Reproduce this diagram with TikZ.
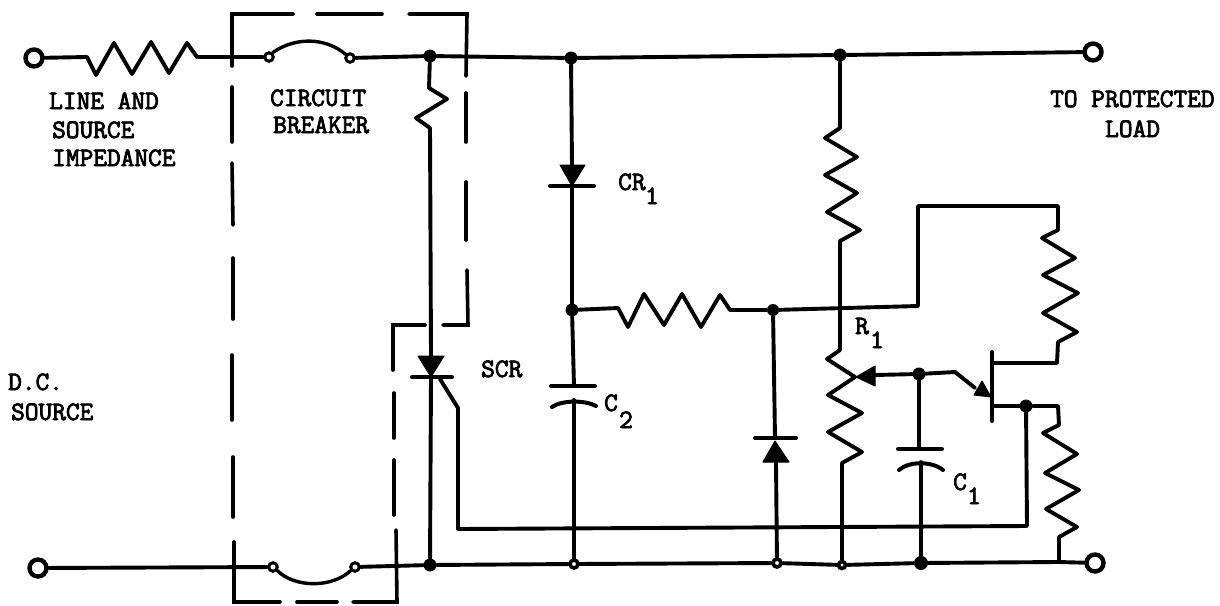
\documentclass[tikz,border=0pt]{standalone}
\usepackage{fontspec}
\newfontfamily\typewr[FakeBold=3]{Latin Modern Mono}
\begin{document}
\begin{tikzpicture}[x=1pt,y=-1pt,
  wire/.style={line width=3.9pt,line join=round,line cap=round},
  dashseg/.style={line width=3.6pt,line join=miter,line cap=round},
  solid fillshape/.style={fill=black,line join=round,draw=black,line width=1pt},
  plate/.style={line width=4pt,line cap=round},
  terminal/.style={circle,draw,line width=4.4pt,fill=white,minimum size=17pt,inner sep=0pt},
  contact/.style={circle,draw,line width=3pt,fill=white,minimum size=8.5pt,inner sep=0pt},
  junction/.style={circle,fill=black,minimum size=13pt,inner sep=0pt},
  openjunction/.style={circle,draw,line width=3.6pt,fill=white,minimum size=8pt,inner sep=0pt},
  lbl/.style={inner sep=0pt,anchor=base west,font=\fontsize{26.6}{28}\selectfont\typewr},
  pt/.style={coordinate}]
\useasboundingbox (0,0) rectangle (1220,605);
\fill[white] (0,0) rectangle (1220,605);

% terminals and junctions
\node[terminal] (tl) at (34,58) {};
\node[terminal] (bl) at (38,568) {};
\node[terminal] (tr) at (1093,52) {};
\node[terminal] (br) at (1095,563) {};
\node[contact] (cbt1) at (269,57) {};
\node[contact] (cbt2) at (350,58) {};
\node[contact] (cbb1) at (273,567) {};
\node[contact] (cbb2) at (355,567) {};
\node[junction] (jt1) at (430,56) {};
\node[junction] (jt2) at (571,58) {};
\node[junction] (jt3) at (840,55) {};
\node[junction] (jm1) at (572,310) {};
\node[junction,minimum size=12pt] (jm2) at (773,310) {};
\node[junction] (jw) at (919,374) {};
\node[junction] (je) at (1026,406) {};
\node[junction] (jb1) at (430,565) {};
\node[openjunction] (jb2) at (574,564) {};
\node[openjunction] (jb3) at (777,563) {};
\node[openjunction,minimum size=7pt] (jb4) at (842,565) {};
\node[junction,minimum size=14pt] (jb5) at (921,563) {};
\node[pt] (rail) at (1059,562) {};
\node[pt] (scra) at (431,356) {};
\node[pt] (scrk) at (431,377) {};
\node[pt] (gtap) at (440,379) {};
\node[pt] (gcorner) at (458,529) {};
\node[pt] (cathE) at (1027,526) {};
\node[pt] (cr1a) at (572,165) {};
\node[pt] (cr1k) at (572,186) {};
\node[pt] (c2a) at (574,386) {};
\node[pt] (c2b) at (574,400) {};
\node[pt] (d2k) at (775,438) {};
\node[pt] (d2a) at (776,463) {};
\node[pt] (c1a) at (919,449) {};
\node[pt] (c1b) at (921,462) {};
\node[pt] (wip) at (875,375) {};
\node[pt] (ubase) at (955,372) {};
\node[pt] (ub1) at (993,363) {};
\node[pt] (ub2) at (993,406) {};

% breaker box
\draw[dashseg] (293,14) -- (232,14) -- (232,66);
\draw[dashseg] (317,14) -- (382,14);
\draw[dashseg] (409,14) -- (467,14) -- (466,76);
\draw[dashseg] (232,87) -- (232,142);
\draw[dashseg] (232,163) -- (233,225);
\draw[dashseg] (233,258) -- (233,319);
\draw[dashseg] (232,355) -- (232,420);
\draw[dashseg] (233,457) -- (233,517);
\draw[dashseg] (234,542) -- (234,602) -- (280,602);
\draw[dashseg] (297,602) -- (337,602);
\draw[dashseg] (353,602) -- (397,602) -- (396,530);
\draw[dashseg] (466,93) -- (466,142);
\draw[dashseg] (466,182) -- (466,240);
\draw[dashseg] (467,270) -- (468,325) -- (443,325);
\draw[dashseg] (425,325) -- (393,325) -- (393,370);
\draw[dashseg] (394,393) -- (394,438);
\draw[dashseg] (394,460) -- (394,515);

% top rail
\draw[wire] (tl) -- (87,57) -- (96,75) -- (114,43) -- (132,74) -- (151,42) -- (169,73) -- (187,43) -- (197,57) -- (cbt1);
\draw[line width=3.4pt,line cap=round] (cbt1.50) .. controls (295,37) and (325,37) .. (cbt2.140);
\draw[wire] (cbt2) -- (jt1);
\draw[wire] (jt1) -- (jt2);
\draw[wire] (jt2) -- (jt3);
\draw[wire] (jt3) -- (tr);

% bottom rail
\draw[wire] (bl) -- (cbb1);
\draw[line width=3.4pt,line cap=round] (cbb1.-40) .. controls (295,588) and (332,588) .. (cbb2.-140);
\draw[wire] (cbb2) -- (jb1);
\draw[wire] (jb1) -- (jb2);
\draw[wire] (jb2) -- (jb3);
\draw[wire] (jb3) -- (jb4);
\draw[wire] (jb4) -- (jb5);
\draw[wire] (jb5) -- (rail) -- (br);

% SCR branch
\draw[wire] (jt1) -- (429,88) -- (447,99) -- (416,118) -- (430,128) -- (scra);
\draw[solid fillshape] (418,356) -- (444,356) -- (scrk) -- cycle;
\draw[plate] (412,377) -- (452,377);
\draw[wire] (scrk) -- (jb1);
\draw[wire] (gtap) -- (458,408) -- (gcorner) -- (cathE) -- (je);

% CR1, C2
\draw[wire] (jt2) -- (cr1a);
\draw[solid fillshape] (560,165) -- (585,165) -- (cr1k) -- cycle;
\draw[plate] (550,186) -- (594,186);
\draw[wire] (cr1k) -- (jm1);
\draw[wire] (jm1) -- (c2a);
\draw[plate] (551,386) -- (595,386);
\draw[plate] (552,407) .. controls (562,400) and (585,400) .. (596,406);
\draw[wire] (c2b) -- (jb2);

% series resistor and lower diode
\draw[wire] (jm1) -- (618,308) -- (628,327) -- (644,294) -- (664,325) -- (682,294) -- (701,327) -- (720,295) -- (730,310) -- (jm2);
\draw[wire] (jm2) -- (d2k);
\draw[plate] (755,438) -- (796,438);
\draw[solid fillshape] (775,441) -- (789,462) -- (763,462) -- cycle;
\draw[wire] (d2a) -- (jb3);

% upper-right resistor
\draw[wire] (jm2) -- (918,306) -- (918,206) -- (1058,206) -- (1058,230) -- (1042,238) -- (1075,258) -- (1043,275) -- (1078,293) -- (1043,313) -- (1077,332) -- (1058,342) -- (1057,363) -- (ub1);

% pot
\draw[wire] (jt3) -- (840,128) -- (825,138) -- (857,157) -- (825,175) -- (857,193) -- (827,212) -- (860,230) -- (840,241) -- (840,350) -- (827,359) -- (855,377) -- (828,395) -- (862,413) -- (828,432) -- (862,452) -- (842,463) -- (jb4);
\draw[solid fillshape] (856,377) -- (875,366) -- (875,386) -- cycle;
\draw[wire] (wip) -- (jw);
\draw[wire] (jw) -- (ubase) -- (975,388);
\draw[solid fillshape] (991,397) -- (974,395) -- (982,381) -- cycle;
\draw[plate] (992,352) -- (992,421);

% emitter side
\draw[wire] (ub2) -- (je);
\draw[wire] (je) -- (1058,406) -- (1059,425) -- (1043,433) -- (1077,454) -- (1045,473) -- (1079,490) -- (1046,509) -- (1077,527) -- (1059,537) -- (rail);

% C1
\draw[wire] (jw) -- (c1a);
\draw[plate] (898,449) -- (942,449);
\draw[plate] (899,470) .. controls (909,461) and (932,461) .. (943,470);
\draw[wire] (c1b) -- (jb5);

% labels
\node[lbl] (l1) at (49,109) {LINE AND};
\node[lbl] (l2) at (52,138) {SOURCE};
\node[lbl] (l3) at (52,166) {IMPEDANCE};
\node[lbl] (l4) at (270,106) {CIRCUIT};
\node[lbl] (l5) at (273,133) {BREAKER};
\node[lbl] (l6) at (1050,107) {TO PROTECTED};
\node[lbl] (l7) at (1105,137) {LOAD};
\node[lbl] (l8) at (8,390) {D.C.};
\node[lbl] (l9) at (11,420) {SOURCE};
\node[lbl] (l10) at (481,377) {SCR};
\node[lbl] (l11) at (618,190) {CR};
\node[lbl] (l12) at (645,204) {1};
\node[lbl] (l13) at (604,411) {C};
\node[lbl] (l14) at (619,428) {2};
\node[lbl] (l15) at (855,334) {R};
\node[lbl] (l16) at (870,348) {1};
\node[lbl] (l17) at (953,490) {C};
\node[lbl] (l18) at (967,504) {1};
\end{tikzpicture}
\end{document}
